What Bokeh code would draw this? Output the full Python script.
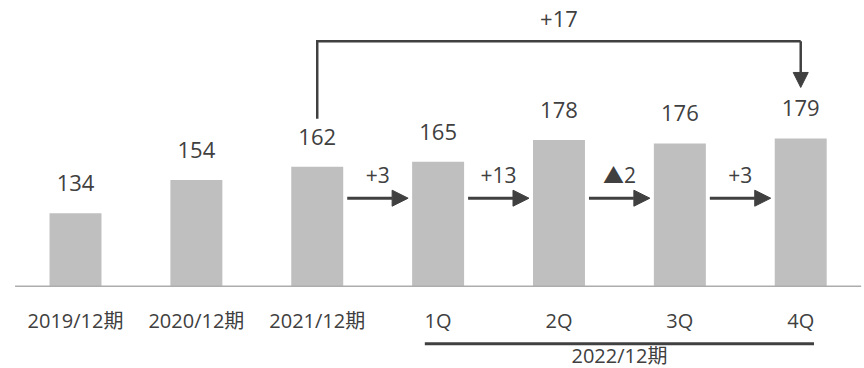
from bokeh.plotting import figure
from bokeh.models import ColumnDataSource, Range1d, Arrow, NormalHead
from bokeh.core.properties import value
from bokeh.embed import file_html
from bokeh.resources import INLINE

# ---- data -------------------------------------------------------------
categories = ["2019/12期", "2020/12期", "2021/12期", "1Q", "2Q", "3Q", "4Q"]
values = [134, 154, 162, 165, 178, 176, 179]
group_label = "2022/12期"
group_members = [3, 4, 5, 6]
step_pairs = [(2, 3), (3, 4), (4, 5), (5, 6)]
bridge_pair = (2, 6)
axis_base = 90

# ---- layout / style ---------------------------------------------------
W, H = 864, 368
STEP_PX = 120.87      # pixels between category centres
FIRST_PX = 75.0       # pixel position of first category centre
UNIT_PX = 1.66        # pixels per value unit
BASE_PX = 285.7       # pixel row of the baseline
BAR_W = 0.43
FONT = "'Open Sans', 'Noto Sans CJK JP'"
TXT = "#404040"
DARK = "#404040"
BAR = "#BFBFBF"
ADJ = -8              # baseline correction for text placement


def fmt(d):
    return f"+{d}" if d >= 0 else f"▲{abs(d)}"


x0 = -FIRST_PX / STEP_PX
x1 = x0 + W / STEP_PX
y1 = axis_base + BASE_PX / UNIT_PX
y0 = y1 - H / UNIT_PX


def yrow(px):
    return y1 - px / UNIT_PX


def dy(px):
    return px / UNIT_PX


p = figure(width=W, height=H, x_range=Range1d(x0, x1), y_range=Range1d(y0, y1),
           x_axis_location=None, y_axis_location=None, toolbar_location=None,
           output_backend="svg", min_border=0, outline_line_color=None)
p.grid.visible = False
p.background_fill_color = "white"

idx = list(range(len(categories)))

# bars
p.vbar(x=idx, top=values, bottom=axis_base, width=BAR_W, fill_color=BAR, line_color=None)

# baseline
p.segment(x0=[-0.5], y0=[axis_base], x1=[len(idx) - 0.5], y1=[axis_base],
          line_color="#ADADAD", line_width=1.5)

# value labels
p.text(x=idx, y=values, text=[str(v) for v in values], text_align="center",
       text_baseline="alphabetic", y_offset=-22 + ADJ, text_font=value(FONT),
       text_font_size="22px", text_color=TXT)

# category labels
p.text(x=idx, y=[axis_base] * len(idx), text=categories, text_align="center",
       text_baseline="alphabetic", y_offset=42 + ADJ, text_font=value(FONT),
       text_font_size="20px", text_color=TXT)

# group underline + label
gpad = 0.11
p.segment(x0=[min(group_members) - gpad], x1=[max(group_members) + gpad],
          y0=[yrow(343.3)], y1=[yrow(343.3)], line_color=DARK, line_width=3)
p.text(x=[sum(group_members) / len(group_members)], y=[axis_base], text=[group_label],
       text_align="center", text_baseline="alphabetic", y_offset=77 + ADJ,
       text_font=value(FONT), text_font_size="20px", text_color=TXT)

# step arrows
arrow_y = yrow(197.7)
gap = 4 / STEP_PX
src = ColumnDataSource(dict(
    xs=[a + BAR_W / 2 + gap for a, b in step_pairs],
    xe=[b - BAR_W / 2 - gap for a, b in step_pairs],
    ys=[arrow_y] * len(step_pairs),
    ye=[arrow_y] * len(step_pairs),
))
p.add_layout(Arrow(x_start="xs", y_start="ys", x_end="xe", y_end="ye", source=src,
                   line_color=DARK, line_width=3,
                   end=NormalHead(size=16, fill_color=DARK, line_color=DARK, line_width=1)))
p.text(x=[(a + b) / 2 for a, b in step_pairs], y=[arrow_y] * len(step_pairs),
       text=[fmt(values[b] - values[a]) for a, b in step_pairs], text_align="center",
       text_baseline="alphabetic", y_offset=-15 + ADJ, text_font=value(FONT),
       text_font_size="21px", text_color=TXT)

# bridge bracket
a, b = bridge_pair
top_y = yrow(40.7)
left_bottom = values[a] + dy(48)
tip_y = values[b] + dy(51)
p.line(x=[a, a, b], y=[left_bottom, top_y, top_y], line_color=DARK, line_width=2.5,
       line_join="miter")
p.add_layout(Arrow(x_start=b, y_start=top_y, x_end=b, y_end=tip_y,
                   line_color=DARK, line_width=2.5,
                   end=NormalHead(size=15, fill_color=DARK, line_color=DARK, line_width=1)))
p.text(x=[(a + b) / 2], y=[top_y], text=[fmt(values[b] - values[a])], text_align="center",
       text_baseline="alphabetic", y_offset=-14.7 + ADJ, text_font=value(FONT),
       text_font_size="22px", text_color=TXT)

open("out.html", "w").write(file_html(p, INLINE))
